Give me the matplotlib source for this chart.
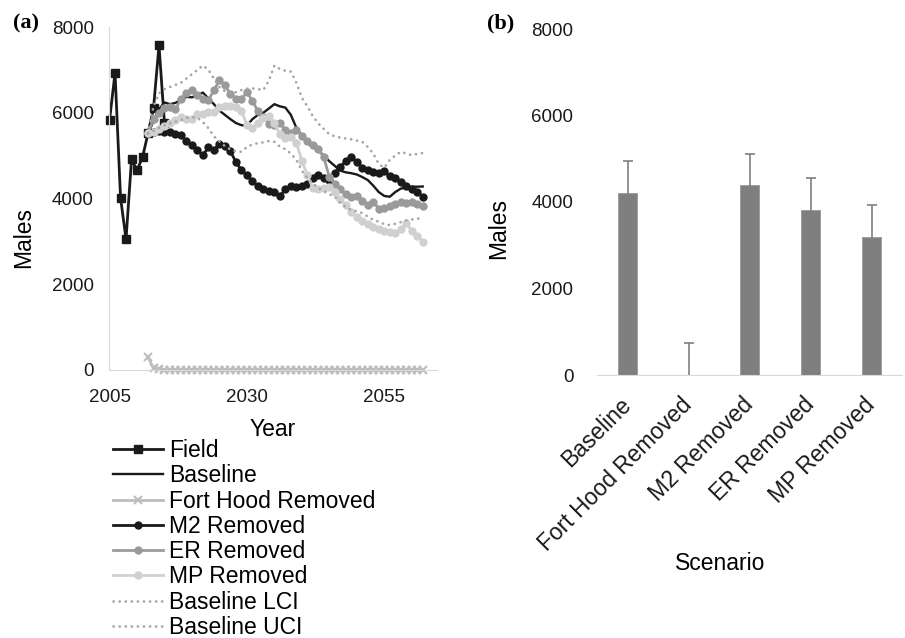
import matplotlib
matplotlib.use('Agg')
import matplotlib.pyplot as plt

plt.rcParams['font.family'] = ['Liberation Sans', 'DejaVu Sans']

# panel (a): population trajectories
field_years = [2005, 2006, 2007, 2008, 2009, 2010, 2011, 2012, 2013, 2014, 2015]
field = [5830, 6930, 4020, 3050, 4910, 4660, 4960, 5520, 6100, 7570, 5750]

sim_years = list(range(2012, 2063))
baseline = [5520, 5800, 6080, 6240, 6200, 6230, 6300, 6370, 6360, 6410,
            6470, 6330, 6200, 6050, 5950, 5850, 5760, 5710, 5700, 5850,
            5950, 6000, 6100, 6200, 6150, 6120, 5950, 5650, 5450, 5300,
            5200, 5120, 5000, 4870, 4760, 4650, 4610, 4590, 4560, 4500,
            4430, 4300, 4150, 4060, 4040, 4150, 4230, 4260, 4275, 4275, 4280]
fort_hood = [300, 40, 12, 6, 3, 2, 1, 1, 0, 0,
             0, 0, 0, 0, 0, 0, 0, 0, 0, 0,
             0, 0, 0, 0, 0, 0, 0, 0, 0, 0,
             0, 0, 0, 0, 0, 0, 0, 0, 0, 0,
             0, 0, 0, 0, 0, 0, 0, 0, 0, 0, 0]
m2 = [5520, 5560, 5570, 5560, 5560, 5500, 5470, 5340, 5250, 5120,
      5010, 5200, 5130, 5280, 5230, 5100, 4850, 4660, 4550, 4400,
      4290, 4230, 4180, 4150, 4050, 4220, 4300, 4260, 4280, 4340,
      4470, 4540, 4480, 4430, 4600, 4740, 4870, 4960, 4850, 4720,
      4660, 4610, 4600, 4630, 4520, 4480, 4380, 4300, 4230, 4150, 4040]
er = [5520, 5850, 6000, 6100, 6130, 6080, 6330, 6450, 6540, 6410,
      6320, 6300, 6520, 6760, 6640, 6440, 6330, 6320, 6480, 6280,
      6040, 5900, 5740, 5720, 5760, 5600, 5520, 5600, 5450, 5350,
      5240, 5150, 4960, 4500, 4340, 4220, 4100, 4040, 4060, 3950,
      3850, 3930, 3760, 3780, 3830, 3880, 3930, 3890, 3920, 3870, 3830]
mp = [5520, 5560, 5620, 5700, 5770, 5840, 5910, 5860, 5850, 5960,
      5960, 6010, 6020, 6130, 6150, 6160, 6130, 6050, 5710, 5650,
      5750, 5880, 5920, 5760, 5500, 5420, 5440, 5300, 4880, 4550,
      4240, 4210, 4250, 4270, 4150, 3980, 3840, 3690, 3560, 3480,
      3400, 3330, 3280, 3240, 3220, 3190, 3290, 3420, 3250, 3130, 2990]
lci = [5520, 5580, 5650, 5710, 5750, 5790, 5830, 5880, 5900, 5880,
       5780, 5640, 5450, 5330, 5220, 5140, 5100, 5090, 5200, 5260,
       5290, 5310, 5340, 5320, 5210, 5150, 5050, 4900, 4650, 4480,
       4350, 4250, 4170, 4100, 4040, 3900, 3800, 3730, 3700, 3660,
       3580, 3500, 3460, 3400, 3380, 3410, 3450, 3490, 3510, 3530, 3540]
uci = [5520, 6150, 6450, 6550, 6600, 6650, 6700, 6800, 6900, 7000,
       7100, 7000, 6800, 6600, 6500, 6450, 6480, 6530, 6560, 6570,
       6550, 6530, 6750, 7100, 7020, 6980, 6960, 6700, 6350, 6150,
       5920, 5750, 5620, 5500, 5450, 5420, 5400, 5380, 5350, 5320,
       5200, 5050, 4800, 4720, 4900, 5000, 5090, 5050, 5010, 5040, 5060]

# panel (b): final abundance per scenario
scenarios = ['Baseline', 'Fort Hood Removed', 'M2 Removed', 'ER Removed', 'MP Removed']
final_mean = [4215, 10, 4390, 3820, 3200]
final_err = [730, 735, 730, 735, 740]

W, H = 905, 638
fig = plt.figure(figsize=(W / 100, H / 100), dpi=100)
ax1 = fig.add_axes([109 / W, 1 - 370 / H, 328 / W, 343 / H])
ax2 = fig.add_axes([597 / W, 1 - 375 / H, 305 / W, 346 / H])

black = '#1a1a1a'
dot_grey = '#a6a6a6'
lines = []
lines += ax1.plot(field_years, field, color=black, lw=2, marker='s', ms=5.5,
                  mec=black, label='Field', clip_on=False)
lines += ax1.plot(sim_years, baseline, color=black, lw=1.7, label='Baseline')
lines += ax1.plot(sim_years, fort_hood, color='#bdbdbd', lw=2, marker='x', ms=6,
                  mew=1.5, label='Fort Hood Removed', clip_on=False)
lines += ax1.plot(sim_years, m2, color=black, lw=2, marker='o', ms=6, mew=0,
                  label='M2 Removed')
lines += ax1.plot(sim_years, er, color='#9a9a9a', lw=2, marker='o', ms=6, mew=0,
                  label='ER Removed')
lines += ax1.plot(sim_years, mp, color='#d0d0d0', lw=2, marker='o', ms=6, mew=0,
                  label='MP Removed')
lines += ax1.plot(sim_years, lci, color=dot_grey, lw=1.9, ls=(0, (0.1, 2.2)),
                  dash_capstyle='round', label='Baseline LCI')
lines += ax1.plot(sim_years, uci, color=dot_grey, lw=1.9, ls=(0, (0.1, 2.2)),
                  dash_capstyle='round', label='Baseline UCI')

ax1.set_xlim(2004.9, 2064.6)
ax1.set_ylim(0, 8000)
ax1.set_xticks([2005, 2030, 2055])
ax1.set_yticks([0, 2000, 4000, 6000, 8000])
for s in ['top', 'right']:
    ax1.spines[s].set_visible(False)
for s in ['left', 'bottom']:
    ax1.spines[s].set_color('#d9d9d9')
ax1.tick_params(axis='both', length=0, labelsize=13.5, colors='#1a1a1a')
ax1.tick_params(axis='x', pad=14)
ax1.tick_params(axis='y', pad=11)
ax1.set_xlabel('Year', fontsize=16.5)
ax1.xaxis.set_label_coords(0.5, -0.14)
ax1.set_ylabel('Males', fontsize=16.5)
ax1.yaxis.set_label_coords(-0.225, 0.385)

fig.legend(handles=lines, loc='upper left', bbox_to_anchor=(113 / W, 1 - 439 / H),
           frameon=False, fontsize=16.5, handlelength=2.2, handletextpad=0.25,
           labelspacing=0.1, borderpad=0, borderaxespad=0)

pos = list(range(len(scenarios)))
ax2.bar(pos, final_mean, width=0.31, color='#7f7f7f', edgecolor='#9a9a9a', lw=0.6)
ax2.errorbar(pos, final_mean, yerr=final_err, fmt='none', ecolor='#7f7f7f',
             elinewidth=1.2, capsize=3.5, capthick=1.2)
ax2.set_xlim(-0.5, 4.5)
ax2.set_ylim(0, 8000)
ax2.set_yticks([0, 2000, 4000, 6000, 8000])
ax2.set_xticks(pos)
ax2.set_xticklabels(scenarios, rotation=45, ha='right', va='center',
                    rotation_mode='anchor', fontsize=16.5)
for s in ['top', 'right', 'left']:
    ax2.spines[s].set_visible(False)
ax2.spines['bottom'].set_color('#d9d9d9')
ax2.tick_params(axis='both', length=0, colors='#1a1a1a')
ax2.tick_params(axis='y', labelsize=13.5, pad=17)
ax2.tick_params(axis='x', pad=19)
ax2.set_ylabel('Males', fontsize=16.5)
ax2.yaxis.set_label_coords(-0.285, 0.422)
fig.text(720 / W, 1 - 563 / H, 'Scenario', fontsize=16.5, ha='center', va='center')

fig.text(13 / W, 1 - 23 / H, '(a)', fontsize=16, fontweight='bold',
         family='Liberation Serif', va='center', ha='left')
fig.text(487 / W, 1 - 23 / H, '(b)', fontsize=16, fontweight='bold',
         family='Liberation Serif', va='center', ha='left')

fig.savefig('out.png', dpi=100)
